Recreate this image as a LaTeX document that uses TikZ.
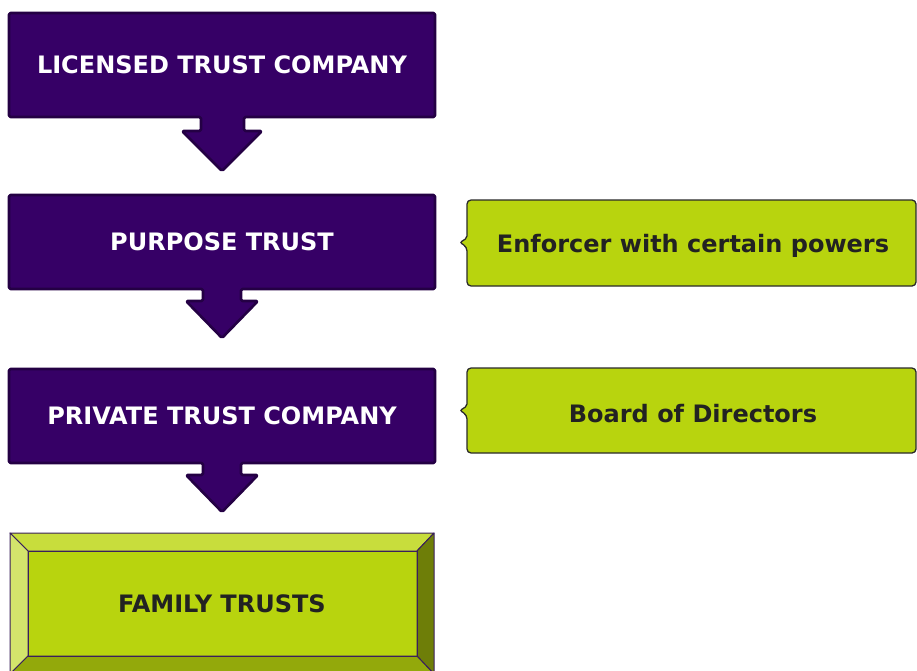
\documentclass[tikz,border=0pt]{standalone}
\usepackage{fontspec}
\setmainfont{DejaVu Sans}
\definecolor{pfill}{HTML}{360066}
\definecolor{pline}{HTML}{240044}
\definecolor{gfill}{HTML}{B8D40E}
\definecolor{gline}{HTML}{2A2A2A}
\definecolor{btop}{HTML}{C8DD3C}
\definecolor{bleft}{HTML}{D4E46C}
\definecolor{bright}{HTML}{6E7E08}
\definecolor{bbot}{HTML}{93A90B}
\definecolor{bline}{HTML}{3A1F5C}
\definecolor{txtdark}{HTML}{222222}
\begin{document}
\begin{tikzpicture}[x=1pt,y=-1pt,
  pshape/.style={fill=pfill,draw=pline,line width=2.6pt,line join=round,rounded corners=1.5pt},
  gshape/.style={fill=gfill,draw=gline,line width=1.3pt,rounded corners=4pt},
  bevel/.style={draw=bline,line width=1pt,line join=round},
  wtxt/.style={text=white,font=\bfseries\fontsize{24}{28}\selectfont,inner sep=0pt},
  dtxt/.style={text=txtdark,font=\bfseries\fontsize{24}{28}\selectfont,inner sep=0pt}]
\useasboundingbox (0,0) rectangle (917,671);
% box 1
\draw[pshape] (9,13) -- (435,13) -- (435,117) -- (244,117) -- (244,131) -- (262,131) -- (222,171) -- (182,131) -- (201,131) -- (201,117) -- (9,117) -- cycle;
\node[wtxt] (lic) at (222,65) {LICENSED TRUST COMPANY};
% box 2
\draw[pshape] (9,195) -- (435,195) -- (435,289) -- (241,289) -- (241,301) -- (258,301) -- (222,338) -- (186,301) -- (203,301) -- (203,289) -- (9,289) -- cycle;
\node[wtxt] (pur) at (222,242) {PURPOSE TRUST};
% box 3
\draw[pshape] (9,369) -- (435,369) -- (435,463) -- (241,463) -- (241,475) -- (258,475) -- (222,512) -- (186,475) -- (203,475) -- (203,463) -- (9,463) -- cycle;
\node[wtxt] (pri) at (222,416) {PRIVATE TRUST COMPANY};
% green callouts
\draw[gshape] (467,200) -- (916,200) -- (916,286) -- (467,286) -- (467,247) [rounded corners=2pt]-- (460,242.5) -- (467,238) [rounded corners=4pt] -- cycle;
\node[dtxt] (enf) at (693,246) {Enforcer with certain powers};
\draw[gshape] (467,368) -- (916,368) -- (916,453) -- (467,453) -- (467,415) [rounded corners=2pt]-- (460,410.5) -- (467,406) [rounded corners=4pt] -- cycle;
\node[dtxt] (brd) at (693,414) {Board of Directors};
% family trusts bevel
\fill[gfill] (28,551) rectangle (417,656);
\filldraw[bevel,fill=btop] (10,533) -- (434,533) -- (417,551) -- (28,551) -- cycle;
\filldraw[bevel,fill=bleft] (10,533) -- (28,551) -- (28,656) -- (10,674) -- cycle;
\filldraw[bevel,fill=bright] (434,533) -- (434,674) -- (417,656) -- (417,551) -- cycle;
\filldraw[bevel,fill=bbot] (10,674) -- (28,656) -- (417,656) -- (434,674) -- cycle;
\draw[bevel] (28,551) rectangle (417,656);
\node[dtxt] (fam) at (222,604) {FAMILY TRUSTS};
\end{tikzpicture}
\end{document}
